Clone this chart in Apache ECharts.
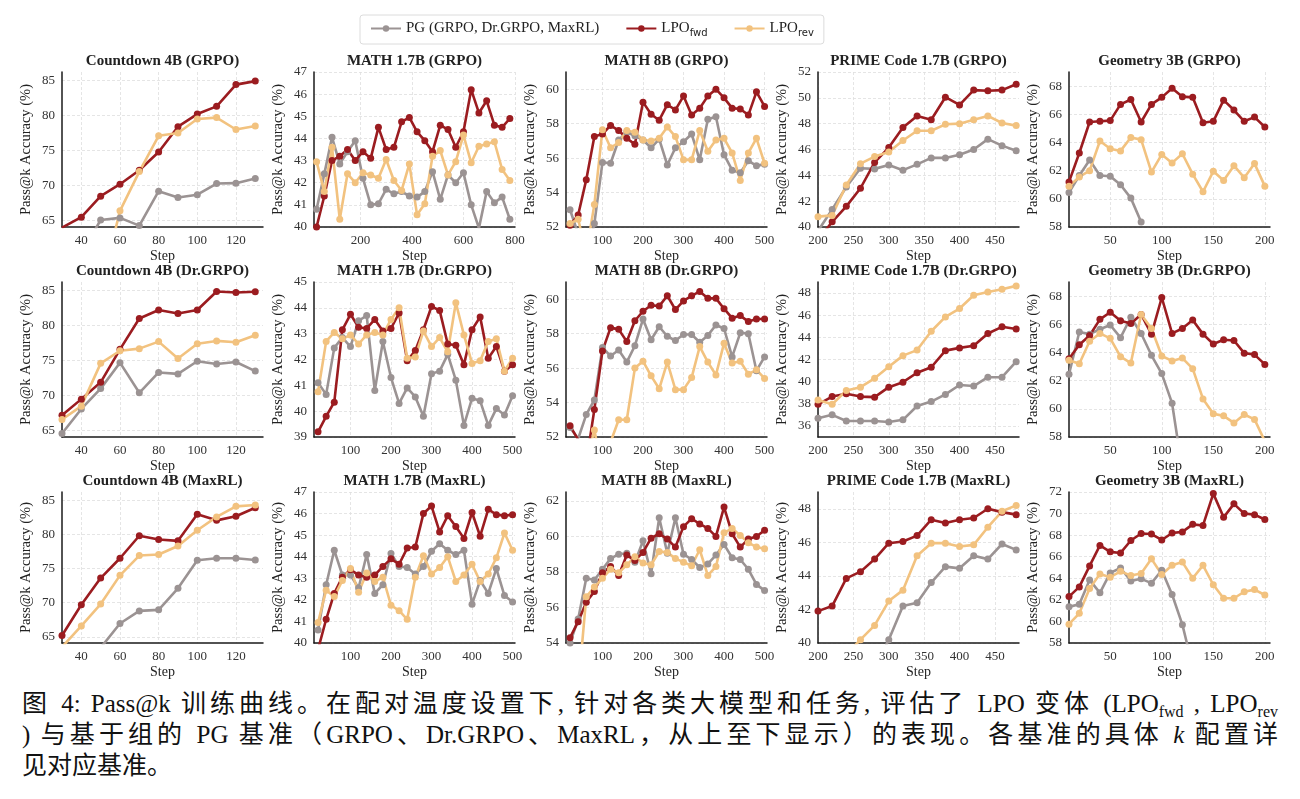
<!DOCTYPE html>
<html>
<head>
<meta charset="utf-8">
<script src="https://cdn.jsdelivr.net/npm/echarts@6/dist/echarts.min.js"></script>
<style>
  body { margin: 0; background: #fff; }
  #chart { position: absolute; left: 0; top: 0; width: 1300px; height: 680px; }
  #caption {
    position: absolute; left: 22px; top: 688px; width: 1256px;
    font-family: "Liberation Serif", "Noto Sans CJK SC", serif;
    font-size: 25px; line-height: 31px; color: #111;
  }
  #caption .ln { white-space: nowrap; text-align: justify; text-align-last: justify; }
  #caption .ln.last { text-align-last: left; }
  #caption sub { font-size: 16px; vertical-align: -5px; line-height: 0; }
</style>
</head>
<body>
<div id="chart"></div>
<div id="caption">
  <div class="ln">图 4: Pass@k 训练曲线。在配对温度设置下, 针对各类大模型和任务, 评估了 LPO 变体 (LPO<sub>fwd</sub> , LPO<sub>rev</sub></div>
  <div class="ln">) 与基于组的 PG 基准（GRPO、Dr.GRPO、MaxRL，从上至下显示）的表现。各基准的具体 <i>k</i> 配置详</div>
  <div class="ln last">见对应基准。</div>
</div>
<script>
// ---- steps / ticks ----
const cdSteps = [30, 40, 50, 60, 70, 80, 90, 100, 110, 120, 130];
const m17GrpoSteps = [30, 60, 90, 120, 150, 180, 210, 240, 270, 300, 330, 360, 390, 420, 450, 480, 510, 540, 570, 600, 630, 660, 690, 720, 750, 780];
const steps20to500 = [20, 40, 60, 80, 100, 120, 140, 160, 180, 200, 220, 240, 260, 280, 300, 320, 340, 360, 380, 400, 420, 440, 460, 480, 500];
const prSteps = [200, 220, 240, 260, 280, 300, 320, 340, 360, 380, 400, 420, 440, 460, 480];
const geoSteps = [10, 20, 30, 40, 50, 60, 70, 80, 90, 100, 110, 120, 130, 140, 150, 160, 170, 180, 190, 200];

const cdXTicks = [40, 60, 80, 100, 120];
const m17GrpoXTicks = [200, 400, 600, 800];
const x500Ticks = [100, 200, 300, 400, 500];
const prXTicks = [200, 250, 300, 350, 400, 450];
const geoXTicks = [50, 100, 150, 200];

const cdYTicks = [65, 70, 75, 80, 85];
const m17GrpoYTicks = [40, 41, 42, 43, 44, 45, 46, 47];
const m8YTicks = [52, 54, 56, 58, 60];
const prGrpoYTicks = [40, 42, 44, 46, 48, 50, 52];
const geoYTicks = [58, 60, 62, 64, 66, 68];
const m17DrYTicks = [39, 40, 41, 42, 43, 44, 45];
const prDrYTicks = [36, 38, 40, 42, 44, 46, 48];
const m8MaxYTicks = [54, 56, 58, 60, 62];
const prMaxYTicks = [40, 42, 44, 46, 48];
const geoMaxYTicks = [58, 60, 62, 64, 66, 68, 70, 72];

// ---- row 1: GRPO ----
const cdGrpoPg  = [null, 60.3, 65.1, 65.4, 64.3, 69.2, 68.3, 68.7, 70.3, 70.35, 71.0];
const cdGrpoFwd = [64.0, 65.5, 68.5, 70.2, 72.2, 74.8, 78.4, 80.2, 81.3, 84.4, 84.9];
const cdGrpoRev = [null, null, 55.2, 66.4, 72.0, 77.1, 77.5, 79.5, 79.7, 78.0, 78.5];

const m17GrpoPg  = [40.8, 42.4, 44.05, 42.85, 43.4, 43.9, 42.2, 41.0, 41.05, 41.7, 41.5, 41.6, 41.4, 41.35, 41.6, 42.5, 41.25, 42.35, 42.0, 42.45, 41.0, 39.95, 41.6, 41.1, 41.35, 40.35];
const m17GrpoFwd = [40.0, 41.4, 43.0, 43.2, 43.5, 43.0, 43.4, 43.1, 44.5, 43.5, 43.6, 44.75, 44.95, 44.3, 43.9, 43.4, 44.6, 44.4, 43.6, 44.3, 46.2, 45.15, 45.7, 44.6, 44.5, 44.9];
const m17GrpoRev = [42.95, 41.6, 43.6, 40.35, 42.4, 42.0, 42.45, 42.35, 42.2, 43.05, 42.1, 41.65, 42.85, 40.55, 41.05, 43.2, 43.45, 42.35, 42.95, 44.15, 42.9, 43.65, 43.75, 43.85, 42.6, 42.1];

const m8GrpoPg  = [53.0, 51.6, 50.0, 52.2, 55.75, 55.7, 57.05, 57.5, 57.3, 57.05, 56.6, 57.1, 55.6, 56.6, 56.95, 57.4, 55.9, 58.25, 58.4, 56.2, 55.3, 55.15, 55.85, 55.55, 55.65];
const m8GrpoFwd = [52.1, 52.7, 54.75, 57.25, 57.4, 57.9, 57.6, 57.15, 56.8, 59.25, 58.55, 58.2, 59.1, 58.8, 59.6, 58.5, 58.9, 59.6, 60.0, 59.5, 58.9, 58.85, 58.5, 59.85, 59.0];
const m8GrpoRev = [52.2, 52.45, 50.5, 53.3, 57.65, 56.6, 56.9, 57.6, 57.5, 57.05, 57.0, 57.15, 57.8, 57.25, 55.9, 55.9, 57.6, 56.4, 57.05, 57.15, 56.3, 54.7, 56.3, 57.15, 55.7];

const prGrpoPg  = [39.7, 41.35, 43.1, 44.55, 44.5, 44.8, 44.4, 44.85, 45.35, 45.35, 45.6, 46.0, 46.8, 46.3, 45.9];
const prGrpoFwd = [39.0, 40.4, 41.6, 43.0, 45.0, 46.15, 47.7, 48.6, 48.3, 50.05, 49.45, 50.6, 50.55, 50.6, 51.05];
const prGrpoRev = [40.8, 40.9, 43.25, 44.9, 45.45, 45.8, 46.7, 47.45, 47.45, 47.95, 48.0, 48.3, 48.6, 48.05, 47.85];

const geoGrpoPg  = [60.45, 61.65, 62.75, 61.65, 61.6, 61.0, 60.05, 58.35, null, null, null, null, null, null, null, null, null, null, null, null];
const geoGrpoFwd = [61.2, 63.25, 65.45, 65.5, 65.55, 66.7, 67.05, 65.45, 66.7, 67.2, 67.85, 67.25, 67.2, 65.4, 65.5, 67.0, 66.3, 65.5, 65.8, 65.1];
const geoGrpoRev = [60.9, 61.55, 62.0, 64.1, 63.55, 63.4, 64.35, 64.2, 61.9, 63.15, 62.55, 63.2, 61.75, 60.5, 61.95, 61.3, 62.35, 61.5, 62.5, 60.9];

// ---- row 2: Dr.GRPO ----
const cdDrPg  = [64.6, 68.1, 71.0, 74.7, 70.4, 73.3, 73.1, 74.9, 74.5, 74.8, 73.5];
const cdDrFwd = [67.2, 69.5, 71.9, 76.6, 81.0, 82.2, 81.7, 82.2, 84.85, 84.7, 84.8];
const cdDrRev = [66.6, 68.5, 74.6, 76.4, 76.7, 77.7, 75.3, 77.4, 77.8, 77.6, 78.6];

const m17DrPg  = [41.1, 40.65, 42.45, 42.85, 42.5, 43.5, 43.7, 40.8, 42.7, 41.3, 40.3, 40.9, 40.55, 39.8, 41.45, 41.55, 42.2, 41.2, 39.45, 40.5, 40.4, 39.45, 40.1, 39.85, 40.6];
const m17DrFwd = [39.2, 39.8, 40.35, 43.15, 43.75, 43.25, 43.2, 43.55, 43.1, 43.2, 43.8, 41.95, 42.35, 43.15, 44.05, 43.9, 42.6, 42.55, 41.8, 43.15, 43.65, 42.05, 42.5, 41.55, 41.8];
const m17DrRev = [40.75, 42.7, 43.05, 42.8, 42.95, 42.6, 42.95, 43.05, 42.95, 43.55, 44.0, 42.05, 42.1, 43.1, 42.5, 42.85, 42.3, 44.2, 42.95, 41.85, 41.95, 42.7, 42.8, 41.55, 42.05];

const m8DrPg  = [52.55, 51.9, 53.3, 54.15, 57.2, 56.7, 57.05, 56.35, 57.3, 58.85, 57.65, 58.4, 57.85, 57.6, 57.95, 57.95, 57.5, 57.9, 58.5, 58.3, 56.65, 58.05, 58.0, 55.85, 56.65];
const m8DrFwd = [52.65, 51.85, 50.5, 53.6, 57.0, 58.35, 58.25, 57.55, 58.75, 59.3, 59.65, 59.6, 60.2, 59.4, 59.9, 60.2, 60.45, 60.05, 60.05, 59.45, 58.9, 59.05, 58.7, 58.85, 58.85];
const m8DrRev = [null, 50.0, 50.5, 52.4, 50.0, 51.7, 53.0, 53.0, 56.0, 56.4, 55.55, 54.8, 56.35, 54.75, 54.75, 55.45, 57.25, 56.35, 55.6, 57.45, 56.3, 56.4, 55.65, 55.9, 55.4];

const prDrPg  = [36.7, 37.0, 36.45, 36.45, 36.45, 36.35, 36.55, 37.8, 38.2, 38.85, 39.7, 39.6, 40.4, 40.4, 41.8];
const prDrFwd = [37.95, 38.65, 38.9, 38.65, 38.6, 39.5, 39.95, 40.8, 41.3, 42.8, 43.05, 43.25, 44.35, 44.95, 44.75];
const prDrRev = [38.35, 37.95, 39.2, 39.5, 40.3, 41.35, 42.35, 42.85, 44.55, 45.85, 46.6, 47.8, 48.1, 48.35, 48.65];

const geoDrPg  = [62.45, 65.45, 65.3, 65.65, 65.95, 65.05, 66.5, 65.35, 63.8, 62.5, 60.4, 55.6, null, null, null, null, null, null, null, null];
const geoDrFwd = [63.55, 64.55, 65.2, 66.35, 66.85, 66.25, 66.05, 66.7, 65.3, 67.9, 65.35, 65.7, 66.3, 65.3, 64.6, 64.9, 64.85, 63.95, 63.85, 63.15];
const geoDrRev = [63.45, 63.2, 64.8, 65.35, 65.0, 63.7, 63.25, 66.7, 65.7, 63.75, 63.4, 63.6, 62.85, 60.7, 59.65, 59.5, 59.0, 59.6, 59.25, 57.7];

// ---- row 3: MaxRL ----
const cdMaxPg  = [null, null, 63.4, 66.95, 68.8, 68.95, 72.1, 76.2, 76.5, 76.5, 76.25];
const cdMaxFwd = [65.2, 69.7, 73.6, 76.5, 79.8, 79.25, 79.05, 82.95, 82.05, 82.65, 83.9];
const cdMaxRev = [63.5, 66.6, 69.8, 74.0, 76.9, 77.05, 78.3, 80.6, 82.55, 84.1, 84.3];

const m17MaxPg  = [40.6, 42.7, 44.3, 43.15, 43.15, 42.55, 44.1, 42.3, 42.7, 44.15, 43.55, 43.5, 43.2, 43.55, 44.25, 44.6, 44.3, 44.1, 44.3, 41.8, 42.9, 42.3, 43.45, 42.2, 41.9];
const m17MaxFwd = [39.7, 41.1, 42.3, 43.05, 43.4, 43.15, 43.05, 43.15, 43.55, 43.9, 43.65, 44.4, 44.45, 46.0, 46.35, 45.15, 45.9, 45.4, 44.85, 46.05, 44.95, 46.2, 45.95, 45.9, 45.95];
const m17MaxRev = [40.95, 42.45, 42.15, 42.9, 43.45, 42.35, 43.25, 42.85, 43.05, 41.75, 41.5, 41.1, 43.05, 44.05, 43.2, 43.5, 44.0, 42.85, 43.15, 43.65, 42.85, 43.2, 43.95, 45.1, 44.3];

const m8MaxPg  = [54.0, 55.35, 57.65, 57.55, 58.15, 58.75, 59.0, 59.05, 58.55, 59.75, 57.9, 61.05, 59.05, 61.05, 59.0, 58.7, 58.25, 58.45, 58.95, 59.55, 58.8, 58.7, 58.15, 57.3, 56.95];
const m8MaxFwd = [54.3, 55.2, 56.3, 56.9, 57.95, 58.3, 57.8, 58.95, 58.65, 59.1, 59.9, 60.15, 59.85, 59.4, 60.55, 61.0, 60.7, 60.45, 60.0, 61.65, 60.15, 59.4, 59.85, 60.0, 60.35];
const m8MaxRev = [null, 51.4, 56.6, 57.15, 57.65, 58.15, 57.95, 58.4, 58.85, 58.5, 58.4, 59.15, 59.1, 58.75, 58.55, 58.35, 59.25, 57.8, 58.3, 60.2, 60.45, 60.05, 59.65, 59.4, 59.3];

const prMaxPg  = [null, null, null, null, 38.5, 40.2, 42.2, 42.4, 43.6, 44.55, 44.45, 45.2, 45.0, 45.9, 45.55];
const prMaxFwd = [41.9, 42.2, 43.85, 44.25, 45.0, 45.95, 46.05, 46.4, 47.35, 47.15, 47.35, 47.45, 48.0, 47.8, 47.65];
const prMaxRev = [null, null, 39.3, 40.2, 41.05, 42.5, 43.15, 45.2, 45.95, 45.95, 45.75, 45.85, 46.9, 47.85, 48.2];

const geoMaxPg  = [61.35, 61.6, 63.85, 62.65, 64.5, 64.95, 63.75, 63.95, 63.55, 64.75, 62.5, 59.7, 55.8, null, null, null, null, null, null, null];
const geoMaxFwd = [62.3, 63.2, 65.15, 67.05, 66.45, 66.35, 67.5, 68.15, 68.1, 67.55, 68.2, 68.3, 69.0, 68.9, 71.85, 69.65, 70.9, 70.0, 69.9, 69.45];
const geoMaxRev = [59.75, 60.75, 63.05, 64.4, 64.1, 64.65, 64.25, 64.45, 65.8, 64.35, 65.2, 65.5, 64.0, 65.2, 63.4, 62.15, 62.15, 62.75, 62.95, 62.45];

const panels = [
  { title: "Countdown 4B (GRPO)", steps: cdSteps, pg: cdGrpoPg, fwd: cdGrpoFwd, rev: cdGrpoRev, xr: [30, 134], yr: [64.1, 86.2], xt: cdXTicks, yt: cdYTicks },
  { title: "MATH 1.7B (GRPO)", steps: m17GrpoSteps, pg: m17GrpoPg, fwd: m17GrpoFwd, rev: m17GrpoRev, xr: [20, 800], yr: [40, 47], xt: m17GrpoXTicks, yt: m17GrpoYTicks },
  { title: "MATH 8B (GRPO)", steps: steps20to500, pg: m8GrpoPg, fwd: m8GrpoFwd, rev: m8GrpoRev, xr: [10, 506], yr: [52, 61], xt: x500Ticks, yt: m8YTicks },
  { title: "PRIME Code 1.7B (GRPO)", steps: prSteps, pg: prGrpoPg, fwd: prGrpoFwd, rev: prGrpoRev, xr: [200, 484], yr: [40, 52], xt: prXTicks, yt: prGrpoYTicks },
  { title: "Geometry 3B (GRPO)", steps: geoSteps, pg: geoGrpoPg, fwd: geoGrpoFwd, rev: geoGrpoRev, xr: [10, 205], yr: [58, 69], xt: geoXTicks, yt: geoYTicks },

  { title: "Countdown 4B (Dr.GRPO)", steps: cdSteps, pg: cdDrPg, fwd: cdDrFwd, rev: cdDrRev, xr: [30, 134], yr: [64.1, 86.2], xt: cdXTicks, yt: cdYTicks },
  { title: "MATH 1.7B (Dr.GRPO)", steps: steps20to500, pg: m17DrPg, fwd: m17DrFwd, rev: m17DrRev, xr: [10, 506], yr: [39, 45], xt: x500Ticks, yt: m17DrYTicks },
  { title: "MATH 8B (Dr.GRPO)", steps: steps20to500, pg: m8DrPg, fwd: m8DrFwd, rev: m8DrRev, xr: [10, 506], yr: [52, 61], xt: x500Ticks, yt: m8YTicks },
  { title: "PRIME Code 1.7B (Dr.GRPO)", steps: prSteps, pg: prDrPg, fwd: prDrFwd, rev: prDrRev, xr: [200, 484], yr: [35, 49], xt: prXTicks, yt: prDrYTicks },
  { title: "Geometry 3B (Dr.GRPO)", steps: geoSteps, pg: geoDrPg, fwd: geoDrFwd, rev: geoDrRev, xr: [10, 205], yr: [58, 69], xt: geoXTicks, yt: geoYTicks },

  { title: "Countdown 4B (MaxRL)", steps: cdSteps, pg: cdMaxPg, fwd: cdMaxFwd, rev: cdMaxRev, xr: [30, 134], yr: [64.1, 86.2], xt: cdXTicks, yt: cdYTicks },
  { title: "MATH 1.7B (MaxRL)", steps: steps20to500, pg: m17MaxPg, fwd: m17MaxFwd, rev: m17MaxRev, xr: [10, 506], yr: [40, 47], xt: x500Ticks, yt: m17GrpoYTicks },
  { title: "MATH 8B (MaxRL)", steps: steps20to500, pg: m8MaxPg, fwd: m8MaxFwd, rev: m8MaxRev, xr: [10, 506], yr: [54, 62.5], xt: x500Ticks, yt: m8MaxYTicks },
  { title: "PRIME Code 1.7B (MaxRL)", steps: prSteps, pg: prMaxPg, fwd: prMaxFwd, rev: prMaxRev, xr: [200, 484], yr: [40, 49], xt: prXTicks, yt: prMaxYTicks },
  { title: "Geometry 3B (MaxRL)", steps: geoSteps, pg: geoMaxPg, fwd: geoMaxFwd, rev: geoMaxRev, xr: [10, 205], yr: [58, 72], xt: geoXTicks, yt: geoMaxYTicks },
];

const SERIF = "Liberation Serif";
const colLeft = [62, 314, 566, 818, 1069];
const rowTop = [72, 282, 492];
const GW = 201, GH = 155;

const PG_NAME = "PG (GRPO, Dr.GRPO, MaxRL)";
const FWD_NAME = "LPO_fwd";
const REV_NAME = "LPO_rev";
const colors = { pg: "#9b9393", fwd: "#9b1c20", rev: "#f2c27f" };

const zip = (xs, ys) => xs.map((x, i) => [x, ys[i]]);

const grids = [], xAxes = [], yAxes = [], series = [], graphics = [];
const gridLine = { show: true, lineStyle: { color: "#dedede", width: 0.8, type: [3, 2] } };
const axisLine = { show: true, onZero: false, lineStyle: { color: "#1a1a1a", width: 1.5 } };

panels.forEach((p, i) => {
  const left = colLeft[i % 5], top = rowTop[Math.floor(i / 5)];
  grids.push({ left, top, width: GW, height: GH });
  xAxes.push({
    gridIndex: i, type: "value", min: p.xr[0], max: p.xr[1],
    name: "Step", nameLocation: "middle", nameGap: 22,
    nameTextStyle: { fontFamily: SERIF, fontSize: 14, color: "#222" },
    axisLine, axisTick: { show: false, customValues: p.xt },
    axisLabel: { customValues: p.xt, margin: 7, fontFamily: SERIF, fontSize: 13, color: "#333" },
    splitLine: gridLine,
  });
  yAxes.push({
    gridIndex: i, type: "value", min: p.yr[0], max: p.yr[1],
    name: "Pass@k Accuracy (%)", nameLocation: "middle", nameGap: 28,
    nameTextStyle: { fontFamily: SERIF, fontSize: 14.5, color: "#222" },
    axisLine, axisTick: { show: false, customValues: p.yt },
    axisLabel: { customValues: p.yt, margin: 7, fontFamily: SERIF, fontSize: 13, color: "#333" },
    splitLine: gridLine,
  });
  graphics.push({
    type: "text", x: left + GW / 2, y: top - 18,
    style: { text: p.title, font: `bold 15px "${SERIF}"`, fill: "#222", textAlign: "center", textVerticalAlign: "top" },
  });
  [["pg", PG_NAME], ["fwd", FWD_NAME], ["rev", REV_NAME]].forEach(([key, name]) => {
    series.push({
      name, type: "line", xAxisIndex: i, yAxisIndex: i,
      data: zip(p.steps, p[key]),
      symbol: "circle", symbolSize: 7, clip: true,
      lineStyle: { color: colors[key], width: 2.6 },
      itemStyle: { color: colors[key] },
      emphasis: { disabled: true },
    });
  });
});

const chart = echarts.init(document.getElementById("chart"));
chart.setOption({
  animation: false,
  backgroundColor: "#fff",
  legend: {
    left: 360, top: 15,
    data: [PG_NAME, FWD_NAME, REV_NAME],
    itemWidth: 30, itemHeight: 8, itemGap: 26,
    borderColor: "#dcdcdc", borderWidth: 1, borderRadius: 3,
    padding: [6, 10, 6, 10],
    textStyle: {
      fontFamily: SERIF, fontSize: 15, color: "#222",
      rich: {
        b: { fontFamily: SERIF, fontSize: 15, color: "#222" },
        s: { fontFamily: "DejaVu Sans", fontSize: 10, color: "#222", padding: [9, 0, 0, 0] },
      },
    },
    formatter: (n) => n === FWD_NAME ? "{b|LPO}{s|fwd}" : n === REV_NAME ? "{b|LPO}{s|rev}" : n,
  },
  grid: grids,
  xAxis: xAxes,
  yAxis: yAxes,
  series,
  graphic: graphics,
});
</script>
</body>
</html>
